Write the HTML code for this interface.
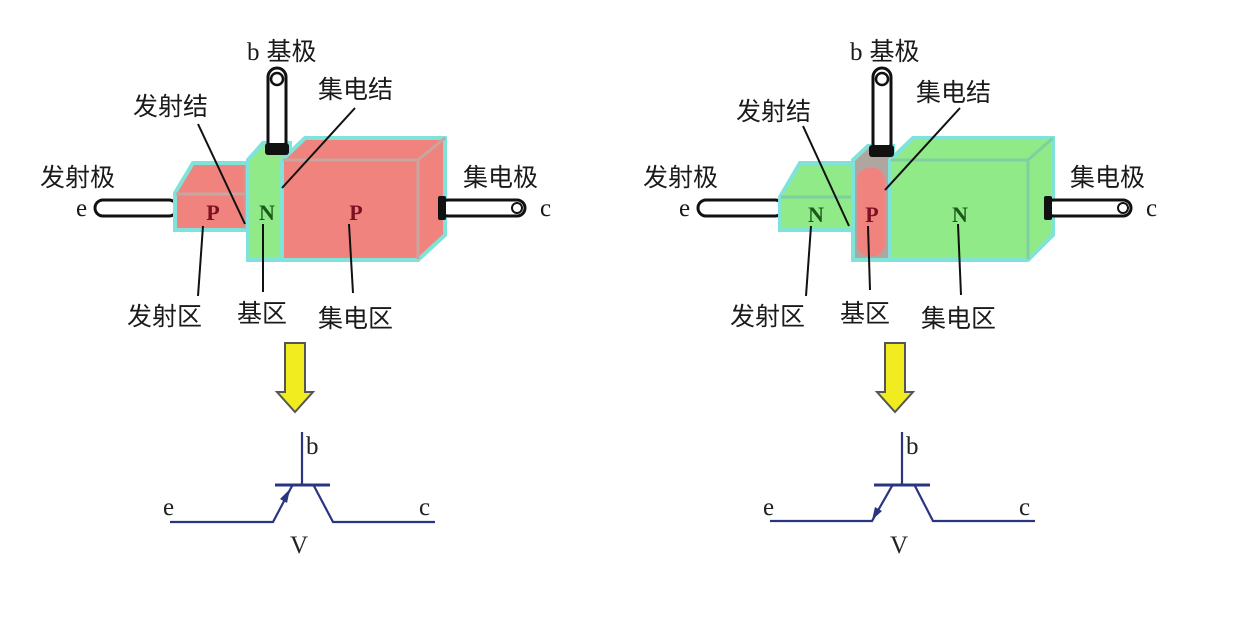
<!DOCTYPE html>
<html><head><meta charset="utf-8"><style>
html,body{margin:0;padding:0;background:#fff;}
svg text{font-family:"Liberation Sans","Noto Sans CJK SC",sans-serif;}
.cj{font-size:25px;fill:#1a1a1a;}
.ser{font-family:"Liberation Serif",serif !important;}
</style></head><body>
<svg width="1242" height="612" viewBox="0 0 1242 612" xmlns="http://www.w3.org/2000/svg">

<!-- LEFT PNP -->
<g id="L">
  <rect x="95" y="200" width="82" height="16" rx="8" fill="#fff" stroke="#111" stroke-width="3"/>
  <path d="M193,163 L250,163 L250,230 L175,230 L175,193 Z" fill="#f0837d" stroke="#7fe3da" stroke-width="4"/>
  <path d="M176,194 L248,194" stroke="#c8a6a0" stroke-width="3"/>
  <path d="M246,165 L246,229" stroke="#c8a6a0" stroke-width="3"/>
  <path d="M248,160 L263,143 L290,143 L290,260 L248,260 Z" fill="#90ea88" stroke="#7fe3da" stroke-width="4"/>
  <path d="M282,160 L305,138 L445,138 L445,235 L418,260 L282,260 Z" fill="#f0837d" stroke="#7fe3da" stroke-width="4"/>
  <path d="M283,160 L418,160 L445,138 M418,160 L418,259" stroke="#c8a6a0" stroke-width="3" fill="none"/>
  <rect x="268" y="68" width="18" height="84" rx="9" fill="#fff" stroke="#111" stroke-width="3"/>
  <circle cx="277" cy="79" r="6" fill="#fff" stroke="#111" stroke-width="2.5"/>
  <rect x="265" y="143" width="24" height="12" rx="3" fill="#111"/>
  <rect x="440" y="200" width="85" height="16" rx="8" fill="#fff" stroke="#111" stroke-width="3"/>
  <circle cx="517" cy="208" r="5" fill="#fff" stroke="#111" stroke-width="2"/>
  <rect x="438" y="196" width="8" height="24" rx="2" fill="#111"/>
  <text x="213" y="220" class="ser" font-size="22" font-weight="bold" fill="#7a1020" text-anchor="middle">P</text>
  <text x="267" y="220" class="ser" font-size="22" font-weight="bold" fill="#1a5a1a" text-anchor="middle">N</text>
  <text x="356" y="220" class="ser" font-size="22" font-weight="bold" fill="#7a1020" text-anchor="middle">P</text>
  <g stroke="#111" stroke-width="2">
    <line x1="198" y1="124" x2="245" y2="224"/>
    <line x1="355" y1="108" x2="282" y2="188"/>
    <line x1="203" y1="226" x2="198" y2="296"/>
    <line x1="263" y1="224" x2="263" y2="292"/>
    <line x1="349" y1="224" x2="353" y2="293"/>
  </g>
  <text x="247" y="60" class="cj"><tspan class="ser">b</tspan> 基极</text>
  <text x="318" y="98" class="cj">集电结</text>
  <text x="133" y="115" class="cj">发射结</text>
  <text x="40" y="186" class="cj">发射极</text>
  <text x="463" y="186" class="cj">集电极</text>
  <text x="76" y="216" class="cj ser">e</text>
  <text x="540" y="216" class="cj ser">c</text>
  <text x="127" y="325" class="cj">发射区</text>
  <text x="237" y="322" class="cj">基区</text>
  <text x="318" y="327" class="cj">集电区</text>
  <path d="M285,343 L305,343 L305,392 L313,392 L295,412 L277,392 L285,392 Z" fill="#f0ec20" stroke="#555" stroke-width="2"/>
  <g stroke="#2a3580" stroke-width="2.2" fill="none">
    <line x1="302" y1="432" x2="302" y2="485"/>
    <line x1="275" y1="485" x2="330" y2="485" stroke-width="3"/>
    <polyline points="170,522 273,522 292,486"/>
    <polyline points="314,486 333,522 435,522"/>
  </g>
  <path d="M290,489 L280,499 L287,503 Z" fill="#2a3580"/>
  <text x="306" y="454" class="ser" font-size="25" fill="#222">b</text>
  <text x="163" y="515" class="ser" font-size="25" fill="#222">e</text>
  <text x="419" y="515" class="ser" font-size="25" fill="#222">c</text>
  <text x="290" y="553" class="ser" font-size="25" fill="#222">V</text>
</g>

<!-- RIGHT NPN -->
<g transform="translate(603,0)">
  <rect x="95" y="200" width="85" height="16" rx="8" fill="#fff" stroke="#111" stroke-width="3"/>
  <path d="M197,163 L252,163 L252,230 L177,230 L177,197 Z" fill="#90ea88" stroke="#7fe3da" stroke-width="4"/>
  <path d="M178,197 L250,197" stroke="#7fd0a0" stroke-width="3"/>
  <path d="M250,160 L265,146 L290,146 L290,260 L250,260 Z" fill="#b0a6a0" stroke="#7fe3da" stroke-width="4"/>
  <rect x="254" y="168" width="28" height="88" rx="12" fill="#f0837d"/>
  <path d="M287,160 L310,138 L450,138 L450,235 L425,260 L287,260 Z" fill="#90ea88" stroke="#7fe3da" stroke-width="4"/>
  <path d="M288,160 L425,160 L450,138 M425,160 L425,259" stroke="#7fd0a0" stroke-width="3" fill="none"/>
  <rect x="270" y="68" width="18" height="84" rx="9" fill="#fff" stroke="#111" stroke-width="3"/>
  <circle cx="279" cy="79" r="6" fill="#fff" stroke="#111" stroke-width="2.5"/>
  <rect x="266" y="145" width="25" height="12" rx="3" fill="#111"/>
  <rect x="443" y="200" width="85" height="16" rx="8" fill="#fff" stroke="#111" stroke-width="3"/>
  <circle cx="520" cy="208" r="5" fill="#fff" stroke="#111" stroke-width="2"/>
  <rect x="441" y="196" width="8" height="24" rx="2" fill="#111"/>
  <text x="213" y="222" class="ser" font-size="22" font-weight="bold" fill="#1a5a1a" text-anchor="middle">N</text>
  <text x="269" y="222" class="ser" font-size="22" font-weight="bold" fill="#7a1020" text-anchor="middle">P</text>
  <text x="357" y="222" class="ser" font-size="22" font-weight="bold" fill="#1a5a1a" text-anchor="middle">N</text>
  <g stroke="#111" stroke-width="2">
    <line x1="200" y1="126" x2="246" y2="226"/>
    <line x1="357" y1="108" x2="282" y2="190"/>
    <line x1="208" y1="226" x2="203" y2="296"/>
    <line x1="265" y1="226" x2="267" y2="290"/>
    <line x1="355" y1="224" x2="358" y2="295"/>
  </g>
  <text x="247" y="60" class="cj"><tspan class="ser">b</tspan> 基极</text>
  <text x="313" y="101" class="cj">集电结</text>
  <text x="133" y="120" class="cj">发射结</text>
  <text x="40" y="186" class="cj">发射极</text>
  <text x="467" y="186" class="cj">集电极</text>
  <text x="76" y="216" class="cj ser">e</text>
  <text x="543" y="216" class="cj ser">c</text>
  <text x="127" y="325" class="cj">发射区</text>
  <text x="237" y="322" class="cj">基区</text>
  <text x="318" y="327" class="cj">集电区</text>
  <path d="M282,343 L302,343 L302,392 L310,392 L292,412 L274,392 L282,392 Z" fill="#f0ec20" stroke="#555" stroke-width="2"/>
  <g transform="translate(-3,0)">
  <g stroke="#2a3580" stroke-width="2.2" fill="none">
    <line x1="302" y1="432" x2="302" y2="485"/>
    <line x1="274" y1="485" x2="330" y2="485" stroke-width="3"/>
    <polyline points="170,521 272,521 292,486"/>
    <polyline points="315,486 333,521 435,521"/>
  </g>
  <path d="M272,520 L275,507 L282,511 Z" fill="#2a3580"/>
  <text x="306" y="454" class="ser" font-size="25" fill="#222">b</text>
  <text x="163" y="515" class="ser" font-size="25" fill="#222">e</text>
  <text x="419" y="515" class="ser" font-size="25" fill="#222">c</text>
  <text x="290" y="553" class="ser" font-size="25" fill="#222">V</text>
  </g>
</g>
</svg>
</body></html>
